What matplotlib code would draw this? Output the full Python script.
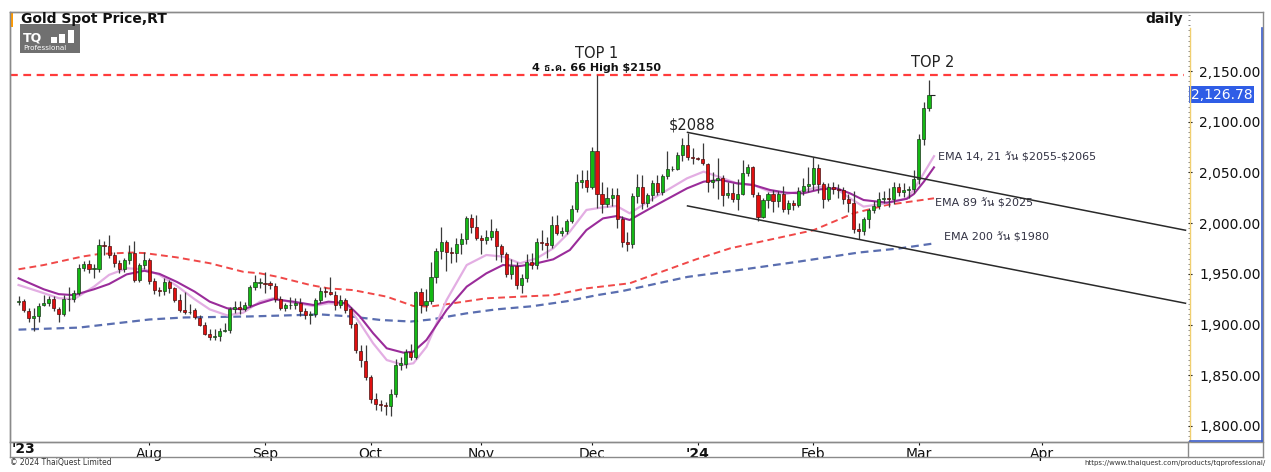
import numpy as np
import matplotlib
matplotlib.use('agg')
import matplotlib.pyplot as plt
from matplotlib import font_manager
from matplotlib.ft2font import FT2Font
from matplotlib.lines import Line2D
from matplotlib.patches import Rectangle
import matplotlib.transforms as mtransforms

# ---- daily candles, 26 Jun 2023 .. 5 Mar 2024 (one entry per weekday) ----
opens = [1922, 1923, 1913, 1906, 1908, 1919, 1921, 1925, 1915, 1910,
         1925, 1925, 1931, 1956, 1960, 1955, 1955, 1978, 1977, 1969,
         1961, 1955, 1964, 1971, 1944, 1959, 1964, 1943, 1934, 1933,
         1942, 1936, 1924, 1914, 1912, 1914, 1906, 1900, 1891, 1888,
         1889, 1894, 1895, 1915, 1917, 1915, 1919, 1937, 1941, 1941,
         1941, 1938, 1925, 1916, 1919, 1919, 1921, 1913, 1909, 1910,
         1924, 1933, 1932, 1929, 1919, 1924, 1915, 1901, 1874, 1864,
         1848, 1827, 1822, 1821, 1820, 1832, 1860, 1861, 1873, 1868,
         1932, 1919, 1923, 1947, 1973, 1981, 1972, 1971, 1979, 1984,
         2005, 1996, 1985, 1983, 1986, 1992, 1977, 1970, 1950, 1958,
         1939, 1946, 1962, 1959, 1981, 1980, 1978, 1998, 1990, 1992,
         2002, 2014, 2041, 2043, 2036, 2071, 2029, 2019, 2025, 2028,
         2004, 1981, 1979, 2027, 2036, 2020, 2028, 2040, 2031, 2046,
         2053, 2053, 2067, 2077, 2065, 2064, 2063, 2058, 2041, 2043,
         2045, 2028, 2030, 2024, 2029, 2049, 2055, 2028, 2006, 2023,
         2029, 2022, 2029, 2014, 2020, 2018, 2032, 2037, 2039, 2054,
         2039, 2024, 2036, 2034, 2033, 2024, 2020, 1994, 1992, 2004,
         2013, 2017, 2024, 2025, 2024, 2036, 2031, 2033, 2034, 2044,
         2083, 2114]
highs = [1928, 1925, 1916, 1916, 1921, 1929, 1928, 1928, 1917, 1929,
         1937, 1934, 1960, 1963, 1964, 1960, 1984, 1982, 1988, 1972,
         1964, 1966, 1978, 1982, 1961, 1972, 1966, 1946, 1937, 1946,
         1944, 1937, 1930, 1932, 1920, 1916, 1909, 1903, 1896, 1896,
         1897, 1902, 1917, 1923, 1923, 1922, 1939, 1949, 1946, 1952,
         1943, 1941, 1928, 1921, 1927, 1926, 1926, 1916, 1913, 1926,
         1937, 1937, 1947, 1933, 1929, 1926, 1917, 1903, 1880, 1880,
         1850, 1833, 1826, 1824, 1836, 1866, 1868, 1876, 1881, 1933,
         1936, 1935, 1962, 1975, 1996, 1983, 1976, 1985, 1990, 2007,
         2009, 2008, 1988, 1993, 2004, 1995, 1979, 1972, 1965, 1962,
         1950, 1970, 1971, 1985, 1993, 1986, 2007, 2008, 1996, 2004,
         2018, 2048, 2052, 2052, 2075, 2146, 2041, 2036, 2035, 2035,
         2007, 1991, 2030, 2048, 2047, 2030, 2043, 2047, 2048, 2071,
         2056, 2070, 2084, 2089, 2074, 2065, 2079, 2059, 2050, 2064,
         2047, 2041, 2040, 2044, 2062, 2058, 2056, 2031, 2025, 2031,
         2033, 2032, 2037, 2023, 2023, 2036, 2045, 2055, 2065, 2058,
         2041, 2040, 2041, 2039, 2036, 2029, 2032, 2000, 2006, 2015,
         2022, 2031, 2032, 2035, 2041, 2040, 2040, 2037, 2052, 2088,
         2119, 2141]
lows = [1919, 1912, 1903, 1894, 1903, 1918, 1918, 1913, 1903, 1908,
        1913, 1922, 1929, 1953, 1951, 1946, 1952, 1969, 1966, 1957,
        1951, 1952, 1960, 1942, 1942, 1955, 1940, 1930, 1928, 1929,
        1931, 1922, 1912, 1910, 1910, 1905, 1899, 1890, 1885, 1885,
        1884, 1893, 1892, 1911, 1910, 1913, 1917, 1934, 1936, 1931,
        1935, 1922, 1914, 1913, 1915, 1915, 1908, 1905, 1901, 1907,
        1921, 1927, 1929, 1914, 1916, 1911, 1897, 1872, 1858, 1845,
        1823, 1816, 1815, 1811, 1810, 1829, 1855, 1857, 1865, 1866,
        1911, 1913, 1920, 1941, 1965, 1953, 1961, 1962, 1970, 1979,
        1990, 1983, 1970, 1979, 1983, 1964, 1962, 1947, 1945, 1935,
        1931, 1942, 1955, 1955, 1974, 1966, 1975, 1988, 1987, 1989,
        2000, 2011, 2035, 2031, 2034, 2015, 2010, 2016, 2017, 1995,
        1976, 1973, 1975, 2020, 2014, 2016, 2022, 2028, 2028, 2044,
        2051, 2052, 2061, 2062, 2058, 2062, 2057, 2031, 2035, 2024,
        2017, 2025, 2021, 2013, 2028, 2046, 2026, 2002, 2005, 2015,
        2011, 2016, 2011, 2009, 2013, 2016, 2028, 2031, 2033, 2030,
        2015, 2022, 2029, 2025, 2019, 2011, 1990, 1984, 1988, 1995,
        2010, 2014, 2020, 2016, 2019, 2027, 2026, 2025, 2030, 2039,
        2077, 2111]
closes = [1923, 1914, 1906, 1908, 1918, 1921, 1925, 1916, 1910, 1925,
          1925, 1931, 1956, 1960, 1955, 1955, 1978, 1977, 1969, 1961,
          1955, 1964, 1971, 1944, 1959, 1964, 1943, 1934, 1933, 1942,
          1936, 1924, 1914, 1912, 1912, 1907, 1900, 1891, 1888, 1889,
          1894, 1895, 1915, 1917, 1915, 1919, 1937, 1942, 1942, 1940,
          1939, 1925, 1916, 1919, 1919, 1921, 1913, 1909, 1910, 1924,
          1933, 1932, 1930, 1919, 1924, 1914, 1901, 1875, 1865, 1848,
          1827, 1822, 1821, 1820, 1832, 1860, 1862, 1873, 1868, 1932,
          1919, 1923, 1947, 1973, 1981, 1972, 1971, 1979, 1984, 2005,
          1996, 1985, 1983, 1986, 1992, 1977, 1970, 1950, 1958, 1939,
          1946, 1962, 1959, 1981, 1980, 1978, 1998, 1990, 1992, 2002,
          2014, 2041, 2043, 2036, 2071, 2029, 2019, 2025, 2028, 2004,
          1981, 1979, 2027, 2036, 2020, 2028, 2040, 2031, 2046, 2053,
          2053, 2067, 2077, 2065, 2064, 2063, 2059, 2041, 2043, 2045,
          2028, 2030, 2024, 2029, 2049, 2055, 2029, 2006, 2023, 2029,
          2022, 2029, 2014, 2020, 2018, 2032, 2037, 2039, 2054, 2039,
          2024, 2036, 2034, 2033, 2024, 2020, 1994, 1992, 2004, 2013,
          2017, 2024, 2025, 2024, 2036, 2031, 2033, 2034, 2044, 2083,
          2114, 2126.78]

# ---- moving averages (bar index, value) ----
ema_fast_idx = [0, 5, 8, 11, 15, 18, 21.5, 25, 28, 31.5, 35, 38, 41.5, 44.7, 48, 50.7, 54.6, 58.6,
                61.6, 65.2, 67.9, 70.5, 73.2, 76.5, 78.5, 81.1, 85.1, 89.1, 93, 96.3, 99.7, 103,
                106.3, 109.6, 112.9, 116.2, 118.9, 121.5, 126.2, 132.9, 136.2, 139.5, 142.8, 146.1,
                149.4, 152.7, 156, 159.4, 162.7, 165.3, 168, 172.6, 176.6, 178, 180, 182]
ema14 = [1939, 1931, 1926, 1925, 1937.4, 1949, 1955.5, 1954.5, 1949, 1938, 1925, 1915, 1909, 1911.8,
         1922.6, 1926, 1921.6, 1918.3, 1921, 1920.3, 1901.2, 1881.5, 1865, 1860.2, 1861.8, 1878,
         1924.2, 1958.7, 1968.6, 1967, 1960.4, 1965.3, 1975.2, 1991.6, 2013, 2015.6, 2016.9,
         2009.7, 2024.5, 2044.2, 2050.8, 2045.2, 2039.3, 2037.6, 2031, 2028.8, 2032, 2036,
         2033.7, 2024.5, 2016.3, 2019.6, 2024.5, 2033, 2049.5, 2066]
ema21 = [1945.6, 1934.8, 1930, 1929, 1934.8, 1940, 1949.5, 1953, 1950, 1942, 1932.5, 1922.6, 1916,
         1915, 1921, 1925, 1922.6, 1919.3, 1922.6, 1921, 1907.8, 1891.4, 1876.6, 1872.3, 1873.3,
         1884.8, 1914.4, 1937.4, 1950.5, 1958.7, 1957.7, 1960.4, 1964.3, 1973.5, 1993.2, 2004.7,
         2007, 2003.1, 2016.3, 2034.3, 2040.9, 2042.6, 2039.3, 2037.6, 2032.7, 2030, 2029.4,
         2033.4, 2034.3, 2029.4, 2022.8, 2020.2, 2024, 2028.7, 2041, 2055]
ema89_idx = [0, 5, 12.6, 16, 22.6, 25, 31.4, 38.1, 44.7, 48, 51.4, 58, 61.6, 66.5, 73.2, 78.5, 81.8,
             86.4, 93, 99.7, 106.3, 112.9, 121.5, 134.7, 141.5, 158, 166, 172.6, 182]
ema89 = [1954.5, 1958.7, 1967, 1969.6, 1971, 1970.5, 1966.3, 1960.4, 1952, 1950.5, 1947.2, 1939,
         1935.7, 1934, 1927.5, 1918.3, 1917.7, 1921, 1925.9, 1927.5, 1929, 1935.7, 1940.7, 1964.3,
         1975.2, 1993, 2009.7, 2017.9, 2024.5]
ema200_idx = [0, 12, 19, 26, 33, 46, 60, 66, 72, 78, 82, 89, 95, 102, 109, 115, 120, 133, 145, 155,
              167, 175, 182]
ema200 = [1895, 1897, 1901, 1905, 1907, 1908, 1910, 1908, 1904.5, 1903, 1905, 1911, 1915, 1918,
          1923, 1929, 1933, 1947, 1955, 1962, 1971, 1975, 1980]

# ---- axis labels ----
month_pos = [26, 49, 70, 92, 114, 135, 158, 179, 203.5]
month_lbl = ['Aug', 'Sep', 'Oct', 'Nov', 'Dec', "'24", 'Feb', 'Mar', 'Apr']
price_ticks = [1800, 1850, 1900, 1950, 2000, 2050, 2100, 2150]

# ---- drawn annotations ----
top1_level = 2146
chan_x = [133, 232]
chan_upper = [2089.5, 1993]
chan_lower = [2017, 1921]

W, H = 1271, 472
GREEN, RED = '#14b814', '#e01010'


def thai_family():
    for f in font_manager.fontManager.ttflist:
        try:
            cmap = FT2Font(f.fname).get_charmap()
        except Exception:
            continue
        if 0x0E18 in cmap and 0x0E31 in cmap:
            return f.name
    return 'DejaVu Sans'


THAI = ['DejaVu Sans', thai_family()]
plt.rcParams['font.family'] = 'DejaVu Sans'


def fx(px):
    return px / W


def fy(py):
    return 1 - py / H


fig = plt.figure(figsize=(W / 100, H / 100), dpi=100)
fig.patch.set_facecolor('white')
ax = fig.add_axes([fx(10), fy(442), fx(1188) - fx(10), fy(12) - fy(442)])

n = len(closes)
idx = np.arange(n)
o = np.array(opens, float)
c = np.array(closes, float)
up = c >= o

# candles
ax.vlines(idx, lows, highs, color='#3a3a3a', lw=0.9, zorder=3)
body_lo = np.minimum(o, c)
body_h = np.maximum(np.abs(c - o), 0.6)
ax.bar(idx[up], body_h[up], bottom=body_lo[up], width=0.62, color=GREEN,
       edgecolor='#1d3a1d', lw=0.5, zorder=4)
ax.bar(idx[~up], body_h[~up], bottom=body_lo[~up], width=0.62, color=RED,
       edgecolor='#4a1010', lw=0.5, zorder=4)
ax.hlines(closes[-1], n - 0.7, n + 0.3, color='#222222', lw=0.8, zorder=4)

# moving averages
ax.plot(ema200_idx, ema200, color='#5a6eb0', lw=1.6, ls=(0, (3.5, 2.2)), zorder=2)
ax.plot(ema89_idx, ema89, color='#f04848', lw=1.4, ls=(0, (3.5, 2.2)), zorder=2)
ax.plot(ema_fast_idx, ema14, color='#e3aee3', lw=1.6, zorder=2)
ax.plot(ema_fast_idx, ema21, color='#9a2c9a', lw=1.5, zorder=2)

# trend channel and top line
ax.plot(chan_x, chan_upper, color='#2a2a2a', lw=1.1, zorder=5)
ax.plot(chan_x, chan_lower, color='#2a2a2a', lw=1.1, zorder=5)
ax.axhline(top1_level, xmin=0, xmax=0.997, color='#ff3b3b', lw=1.6, ls=(0, (3.5, 2.5)), zorder=1)

# text annotations
ax.text(115, 2167.5, 'TOP 1', ha='center', va='center', fontsize=10.5, color='#222222')
ax.text(115, 2153, '4 ธ.ค. 66 High $2150', ha='center', va='center', fontsize=8,
        fontweight='bold', color='#111111', family=THAI, parse_math=False)
ax.text(134, 2097, '$2088', ha='center', va='center', fontsize=10.5, color='#222222',
        parse_math=False)
ax.text(181.8, 2158, 'TOP 2', ha='center', va='center', fontsize=10.5, color='#222222')
ax.text(182.8, 2065, 'EMA 14, 21 วัน $2055-$2065', ha='left', va='center', fontsize=8,
        color='#333344', family=THAI, parse_math=False)
ax.text(182.3, 2020, 'EMA 89 วัน $2025', ha='left', va='center', fontsize=8,
        color='#333344', family=THAI, parse_math=False)
ax.text(184, 1986.5, 'EMA 200 วัน $1980', ha='left', va='center', fontsize=8,
        color='#333344', family=THAI, parse_math=False)

# axes and scales
ax.set_xlim(-1.7, 232.5)
ax.set_ylim(1784.2, 2208.2)
ax.set_xticks(month_pos)
ax.set_xticklabels(month_lbl)
for lbl in ax.get_xticklabels():
    if lbl.get_text() == "'24":
        lbl.set_fontweight('bold')
ax.tick_params(axis='x', length=2, pad=1.5, labelsize=10, colors='#111111')
ax.text(0.001, -0.016, "'23", transform=ax.transAxes, ha='left', va='center',
        fontsize=10, fontweight='bold', color='#111111')

ax.yaxis.tick_right()
ax.set_yticks(price_ticks)
ax.set_yticklabels([f'{v:,.2f}' for v in price_ticks])
ax.set_yticks(np.arange(1785, 2206, 5), minor=True)
ax.tick_params(axis='y', which='major', length=3, pad=5, labelsize=10, colors='#111111')
ax.tick_params(axis='y', which='minor', length=1.5, color='#777777')
for s in ['top', 'left', 'bottom']:
    ax.spines[s].set_color('#8a8a8a')
    ax.spines[s].set_linewidth(1.0)
ax.spines['right'].set_visible(False)

# last price tag
tr = mtransforms.blended_transform_factory(ax.transAxes, ax.transData)
ax.text(1.0 + 3 / 1178, closes[-1], f'{closes[-1]:,.2f}', transform=tr, ha='left', va='center',
        fontsize=10, color='white', zorder=10,
        bbox=dict(boxstyle='square,pad=0.12', fc='#2f5de6', ec='none'))


def line(x0, y0, x1, y1, col, lw=1.0):
    fig.add_artist(Line2D([fx(x0), fx(x1)], [fy(y0), fy(y1)], transform=fig.transFigure,
                          color=col, lw=lw))


# frame
line(10, 12, 1263, 12, '#8a8a8a')
line(10, 12, 10, 457, '#8a8a8a')
line(1263, 12, 1263, 457, '#8a8a8a')
line(10, 457, 1263, 457, '#8a8a8a')
line(10, 442, 1263, 442, '#8a8a8a')
line(1188, 442, 1188, 457, '#8a8a8a')
# price box
line(1189.5, 28, 1189.5, 441, '#f0cf70', 1.0)
line(1262, 28, 1262, 441, '#3c5cc8', 1.2)
line(1189.5, 440.5, 1262, 440.5, '#3c5cc8', 1.2)

# orange marker and logo
fig.add_artist(Rectangle((fx(10), fy(27)), fx(3), 15 / H, transform=fig.transFigure,
                         color='#ff9a00', lw=0))
fig.add_artist(Rectangle((fx(20), fy(53)), fx(60), 29 / H, transform=fig.transFigure,
                         color='#707070', lw=0))
fig.text(fx(23), fy(38), 'TQ', fontsize=9, fontweight='bold', color='white', va='center')
for bx, bh in [(51, 6), (59, 9), (68, 13)]:
    fig.add_artist(Rectangle((fx(bx), fy(43)), fx(6), bh / H, transform=fig.transFigure,
                             color='white', lw=0))
fig.text(fx(23), fy(48.5), 'Professional', fontsize=5.2, color='white', va='center')

# titles and footers
fig.text(fx(21), fy(19), 'Gold Spot Price,RT', fontsize=10, fontweight='bold', va='center',
         color='#111111')
fig.text(fx(1183), fy(19), 'daily', fontsize=10, fontweight='bold', va='center', ha='right',
         color='#111111')
fig.text(fx(10), fy(463), '\u00a9 2024 ThaiQuest Limited', fontsize=5.5, va='center',
         color='#333333')
fig.text(fx(1266), fy(463), 'https://www.thaiquest.com/products/tqprofessional/', fontsize=5,
         va='center', ha='right', color='#333333')

fig.savefig('out.png', dpi=100, facecolor='white')
